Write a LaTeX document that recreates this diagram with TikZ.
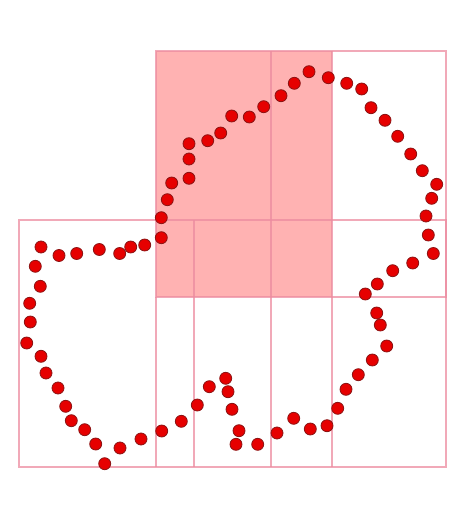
\documentclass[tikz,border=0pt]{standalone}
\usepackage{tikz}
\definecolor{cellfill}{RGB}{255,178,178}
\definecolor{gridpink}{RGB}{236,140,160}
\definecolor{dotred}{RGB}{230,0,0}
\definecolor{dotedge}{RGB}{140,20,20}
\tikzset{
  gridline/.style={draw=gridpink, line width=0.85pt, draw opacity=0.75},
  dot/.style={fill=dotred, draw=dotedge, line width=0.4pt}
}
\begin{document}
\begin{tikzpicture}[x=0.5pt,y=-0.5pt]
    \useasboundingbox (0,0) rectangle (472,508);

    % Shaded cells
    \fill[cellfill] (156.3,50.7) rectangle (331.7,296.7);

    % Upper block
    \draw[gridline] (156.3,50.7) rectangle (445.7,296.7);
    % Lower block
    \draw[gridline] (19,220.3) rectangle (445.7,467.3);
    % Inner lines
    \draw[gridline] (270.7,50.7) -- (270.7,467.3);
    \draw[gridline] (331.7,50.7) -- (331.7,467.3);
    \draw[gridline] (156.3,296.7) -- (156.3,467.3);
    \draw[gridline] (194.3,220.3) -- (194.3,467.3);

    % Sampled boundary points
    \foreach \x/\y in {
        309/71.7, 328.3/77.7, 346.7/83.3, 361.7/89, 371/107.7, 385/120.3,
        397.7/136.3, 410.7/154, 422.3/170.7, 436.7/184.3, 431.7/198.3,
        426/216, 428.3/235, 433.3/253.5, 412.7/263, 392.7/270.7,
        377.3/284, 365.3/294, 376.7/313, 380.3/325, 386.7/346,
        372.3/360, 358.3/374.7, 346/389.3, 337.7/408.3, 327/425.7,
        310.3/429, 293.7/418.3, 277/433, 257.7/444.3, 236/444.3,
        239/430.7, 232/409.3, 228/391.7, 225.7/378.3, 209.3/386.7,
        197.3/405, 181.3/421.3, 161.7/431, 141/439, 120/448,
        104.7/463.7, 95.7/444, 84.7/429.7, 71.3/420.7, 65.7/406.3,
        58/388, 46/373, 41/356.3, 26.7/343, 30.3/322, 29.7/303.3,
        40.3/286.3, 35.3/266.3, 41/247, 59/255.5, 76.7/253.5,
        99.3/249.5, 119.7/253.5, 130.7/247, 144.7/245, 161.3/237.7,
        161.3/217.7, 167.3/199.7, 171.7/183, 189/178.3, 189/159,
        189/143.7, 207.7/140.7, 220.7/133, 231.7/116, 249.3/117,
        263.7/106.7, 281/95.7, 294.3/83.3}
        \draw[dot] (\x,\y) circle (6);
\end{tikzpicture}
\end{document}
